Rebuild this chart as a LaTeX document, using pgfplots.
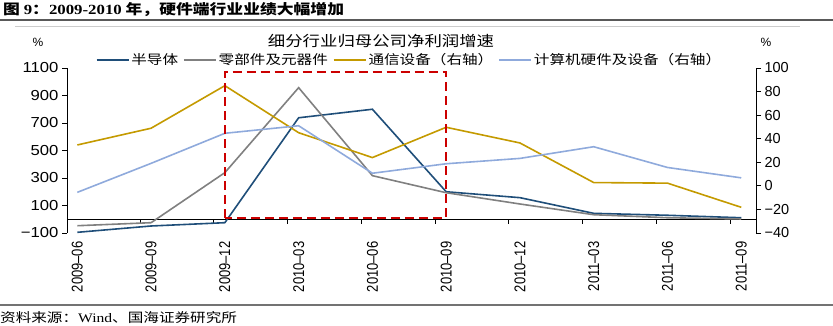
\documentclass[border=0pt]{standalone}
\usepackage{fontspec}
\usepackage{graphicx}
\usepackage{pgfplots}
\pgfplotsset{compat=1.18}
\setmainfont{Liberation Serif}
\setsansfont{Liberation Sans}
\newfontfamily\cjk{Noto Sans CJK SC}[FakeStretch=1.2]
\newfontfamily\lsans{Liberation Sans}
\newfontfamily\lsansw{Liberation Sans}[FakeStretch=1.15]
\newfontfamily\lserif{Liberation Serif}[FakeStretch=1.2]
\definecolor{cblue}{HTML}{1F4E79}
\definecolor{cgray}{HTML}{808080}
\definecolor{cgold}{HTML}{C49A00}
\definecolor{clblue}{HTML}{8FAADC}
\definecolor{cred}{HTML}{CC0000}
\newcommand{\xl}[1]{\scalebox{1}[1.2]{#1}}
\pgfplotsset{
  mybase/.style={
    scale only axis, width=689pt, height=165pt,
    at={(67pt,92pt)}, anchor=south west,
    xmin=-0.14, xmax=9.2,
    axis line style={-, black, line width=0.9pt},
    tick align=outside, major tick length=5pt,
    major tick style={black, line width=0.9pt},
  }
}
\begin{document}
\begin{tikzpicture}[x=1pt,y=1pt]
\path[use as bounding box] (0,0) rectangle (833,325);
% header
\node[anchor=west, inner sep=0pt] at (3,315) {\cjk\bfseries\fontsize{14}{14}\selectfont 图 {\lserif\bfseries 9}：{\lserif\bfseries 2009-2010} 年，硬件端行业业绩大幅增加};
\draw[line width=2pt, color=black!65] (0,305) -- (833,305);
\draw[line width=0.8pt, color=black!20] (15,299) -- (800,299);
% footer
\draw[line width=1.5pt, color=black!55] (0,20) -- (833,20);
\node[anchor=west, inner sep=0pt] at (0,7) {\cjk\fontsize{13}{13}\selectfont 资料来源：{\lserif Wind}、国海证券研究所};
% chart title and units
\node[inner sep=0pt] at (381,284) {\cjk\fontsize{14.5}{14.5}\selectfont 细分行业归母公司净利润增速};
\node[inner sep=0pt] at (38,283) {\lsans\fontsize{12}{12}\selectfont \%};
\node[inner sep=0pt] at (766,283) {\lsans\fontsize{12}{12}\selectfont \%};

\begin{axis}[mybase,
  ymin=-100, ymax=1100,
  ytick={-100,100,300,500,700,900,1100},
  yticklabels={−100,100,300,500,700,900,1100},
  y tick label style={font=\lsansw\fontsize{14.5}{14.5}\selectfont},
  axis y line*=left, axis x line*=bottom,
  x axis line style={draw=none},
  xtick={0,...,9},
  xticklabels={\xl{2009–06},\xl{2009–09},\xl{2009–12},\xl{2010–03},\xl{2010–06},\xl{2010–09},\xl{2010–12},\xl{2011–03},\xl{2011–06},\xl{2011–09}},
  major x tick style={draw=none},
  x tick label style={rotate=90, anchor=east, font=\lsans\fontsize{13}{13}\selectfont},
]
\draw[black, line width=1.1pt] (axis cs:-0.14,0) -- (axis cs:9.2,0);
\pgfplotsinvokeforeach{0.85,1.85,2.85,3.85,4.85,5.85,6.85,7.85,8.85}{
  \draw[black, line width=0.9pt] (axis cs:#1,0) -- ++(0pt,-5pt);
}
\addplot[cblue, line width=1.6pt] coordinates {(0,-95)(1,-49)(2,-25)(3,738)(4,800)(5,200)(6,157)(7,43)(8,29)(9,11)};
\addplot[cgray, line width=1.6pt] coordinates {(0,-47)(1,-25)(2,339)(3,957)(4,317)(5,193)(6,111)(7,33)(8,11)(9,2)};
\end{axis}

\begin{axis}[mybase,
  ymin=-40, ymax=100,
  ytick={-40,-20,0,20,40,60,80,100},
  yticklabels={−40,−20,0,20,40,60,80,100},
  y tick label style={font=\lsans\fontsize{14.5}{14.5}\selectfont},
  axis y line*=right, axis x line=none,
  legend columns=4,
  legend style={at={(0.497,1.048)}, anchor=center, draw=none, fill=none,
    inner sep=0pt, font=\cjk\fontsize{13}{13}\selectfont,
    /tikz/every even column/.append style={column sep=3pt}},
  legend cell align=left,
  legend image code/.code={\draw[#1] (0pt,0pt) -- (32pt,0pt);},
]
\addlegendimage{cblue, line width=1.6pt}
\addlegendentry{半导体}
\addlegendimage{cgray, line width=1.6pt}
\addlegendentry{零部件及元器件}
\addplot[cgold, line width=1.6pt] coordinates {(0,34.7)(1,48.9)(2,85)(3,45.1)(4,24)(5,49.7)(6,36.4)(7,2.8)(8,2.3)(9,-18.2)};
\addlegendentry{通信设备（右轴）}
\addplot[clblue, line width=1.6pt] coordinates {(0,-5.5)(1,19.1)(2,44.6)(3,51)(4,10.7)(5,18.75)(6,23.3)(7,33.2)(8,15.6)(9,6.8)};
\addlegendentry{计算机硬件及设备（右轴）}
\draw[cred, line width=2.2pt, dash pattern=on 9pt off 5pt] (axis cs:2,-27.2) rectangle (axis cs:5,96.9);
\end{axis}
\end{tikzpicture}
\end{document}
